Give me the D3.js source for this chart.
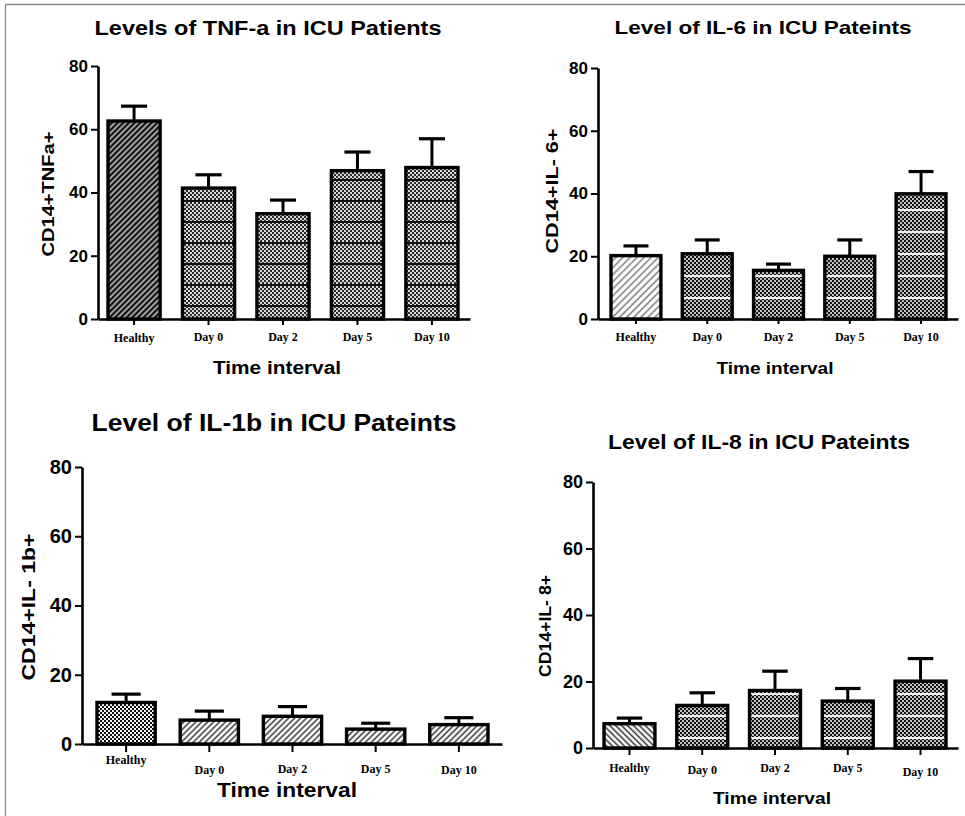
<!DOCTYPE html>
<html>
<head>
<meta charset="utf-8">
<script src="https://cdn.jsdelivr.net/npm/d3@7/dist/d3.min.js"></script>
<style>
  html, body { margin: 0; padding: 0; background: #fff; }
  svg { display: block; }
</style>
</head>
<body>
<svg id="chart" width="965" height="816"></svg>
<script>
// ---------------- DATA ----------------
const categories = ["Healthy", "Day 0", "Day 2", "Day 5", "Day 10"];
const yTicks = [0, 20, 40, 60, 80];

const tnfValues = [62.6, 41.4, 33.3, 46.9, 47.9];
const tnfErrTop = [67.3, 45.6, 37.6, 52.8, 57.0];

const il6Values = [20.2, 20.8, 15.5, 20.0, 39.9];
const il6ErrTop = [23.3, 25.2, 17.5, 25.2, 47.0];

const il1bValues = [12.0, 6.9, 8.0, 4.3, 5.6];
const il1bErrTop = [14.4, 9.5, 10.8, 6.0, 7.6];

const il8Values = [7.3, 12.8, 17.3, 14.1, 20.1];
const il8ErrTop = [9.0, 16.6, 23.1, 17.9, 26.9];

const titles = [
  "Levels of TNF-a in ICU Patients",
  "Level of IL-6 in ICU Pateints",
  "Level of IL-1b in ICU Pateints",
  "Level of IL-8 in ICU Pateints"
];
const yTitles = ["CD14+TNFa+", "CD14+IL- 6+", "CD14+IL- 1b+", "CD14+IL- 8+"];
const xTitle = "Time interval";

// ---------------- LAYOUT ----------------
const panels = [
  { values: tnfValues, err: tnfErrTop, title: titles[0], yTitle: yTitles[0],
    axisX: 98, y0: 319, y80: 66, axisEnd: 470, bars: [108, 458],
    titleX: 268, titleY: 35, titleSize: 20, titleLen: 347,
    tickSize: 17, yTitleX: 48, yTitleY: 194, yTitleSize: 17, yTitleLen: 125,
    xTitleX: 277, xTitleY: 374, xTitleSize: 18, xTitleLen: 128,
    xTickLen: 6, labelDy: [23, 22, 22, 22, 22],
    fills: [["hatchDark"], ["checker", "stripesDark"], ["checker", "stripesDark"], ["checker", "stripesDark"], ["checker", "stripesDark"]] },
  { values: il6Values, err: il6ErrTop, title: titles[1], yTitle: yTitles[1],
    axisX: 598, y0: 319, y80: 68, axisEnd: 958, bars: [611, 946],
    titleX: 763, titleY: 34, titleSize: 19, titleLen: 297,
    tickSize: 17, yTitleX: 552, yTitleY: 191, yTitleSize: 17, yTitleLen: 125,
    xTitleX: 775, xTitleY: 374, xTitleSize: 17, xTitleLen: 117,
    xTickLen: 5, labelDy: [22, 22, 22, 22, 22],
    fills: [["hatchLight"], ["checkerDark", "stripesWhite"], ["checkerDark", "stripesWhite"], ["checkerDark", "stripesWhite"], ["checkerDark", "stripesWhite"]] },
  { values: il1bValues, err: il1bErrTop, title: titles[2], yTitle: yTitles[2],
    axisX: 82, y0: 744, y80: 467, axisEnd: 502, bars: [97, 488],
    titleX: 274, titleY: 431, titleSize: 24, titleLen: 365,
    tickSize: 20, yTitleX: 28, yTitleY: 607, yTitleSize: 19, yTitleLen: 147,
    xTitleX: 287, xTitleY: 797, xTitleSize: 20, xTitleLen: 140,
    xTickLen: 8, labelDy: [20, 30, 29, 29, 30],
    fills: [["checkerDots"], ["hatchMed"], ["hatchMed"], ["hatchMed"], ["hatchMed"]] },
  { values: il8Values, err: il8ErrTop, title: titles[3], yTitle: yTitles[3],
    axisX: 593, y0: 748, y80: 482, axisEnd: 958, bars: [604, 946],
    titleX: 759, titleY: 449, titleSize: 20, titleLen: 302,
    tickSize: 18, yTitleX: 545, yTitleY: 626, yTitleSize: 16, yTitleLen: 102,
    xTitleX: 772, xTitleY: 804, xTitleSize: 17, xTitleLen: 118,
    xTickLen: 7, labelDy: [24, 26, 24, 24, 28],
    fills: [["hatchBack"], ["checkerDark", "stripesWhite"], ["checkerDark", "stripesWhite"], ["checkerDark", "stripesWhite"], ["checkerDark", "stripesWhite"]] }
];

const svg = d3.select("#chart");
const defs = svg.append("defs");

// ---------------- PATTERNS ----------------
function checkerPattern(id, bg, fg, size) {
  const p = defs.append("pattern").attr("id", id).attr("patternUnits", "userSpaceOnUse")
    .attr("width", size * 2).attr("height", size * 2);
  p.append("rect").attr("width", size * 2).attr("height", size * 2).attr("fill", bg);
  p.append("rect").attr("x", 0).attr("y", 0).attr("width", size).attr("height", size).attr("fill", fg);
  p.append("rect").attr("x", size).attr("y", size).attr("width", size).attr("height", size).attr("fill", fg);
}
checkerPattern("checker", "#d8d8d8", "#2a2a2a", 2);
checkerPattern("checkerDark", "#c0c0c0", "#141414", 2);
checkerPattern("checkerDots", "#f4f4f4", "#111", 2);

function hatchPattern(id, bg, fg, spacing, width, angle) {
  const p = defs.append("pattern").attr("id", id).attr("patternUnits", "userSpaceOnUse")
    .attr("width", spacing).attr("height", spacing)
    .attr("patternTransform", `rotate(${angle})`);
  p.append("rect").attr("width", spacing).attr("height", spacing).attr("fill", bg);
  p.append("line").attr("x1", spacing / 2).attr("x2", spacing / 2).attr("y1", 0).attr("y2", spacing)
    .attr("stroke", fg).attr("stroke-width", width);
}
hatchPattern("hatchDark", "#a0a0a0", "#111", 4, 2.0, 45);
hatchPattern("hatchLight", "#fff", "#777", 5, 1.5, 45);
hatchPattern("hatchMed", "#fff", "#333", 4.2, 1.5, 45);
hatchPattern("hatchBack", "#fff", "#333", 4.2, 1.5, -45);

function stripePattern(id, color, period, width) {
  const p = defs.append("pattern").attr("id", id).attr("patternUnits", "userSpaceOnUse")
    .attr("width", 965).attr("height", period);
  p.append("rect").attr("x", 0).attr("y", Math.round(period / 2)).attr("width", 965).attr("height", width).attr("fill", color);
}
stripePattern("stripesDark", "#111", 21, 2);
stripePattern("stripesWhite", "#eeeeee", 22, 2);

// ---------------- FRAME ----------------
svg.append("line").attr("x1", 5).attr("x2", 965).attr("y1", 4.5).attr("y2", 4.5)
  .attr("stroke", "#8a8a8a").attr("stroke-width", 1.3);
svg.append("line").attr("x1", 5.5).attr("x2", 5.5).attr("y1", 4).attr("y2", 816)
  .attr("stroke", "#8a8a8a").attr("stroke-width", 1.3);

// ---------------- PANELS ----------------
panels.forEach(cfg => {
  const g = svg.append("g");
  const y = d3.scaleLinear().domain([0, 80]).range([cfg.y0, cfg.y80]);
  const x = d3.scaleBand().domain(categories).range(cfg.bars).paddingInner(0.3).paddingOuter(0);
  const bw = x.bandwidth();

  // title
  g.append("text").attr("x", cfg.titleX).attr("y", cfg.titleY)
    .attr("text-anchor", "middle")
    .attr("font-family", "Liberation Sans, Arial, sans-serif").attr("font-weight", "bold")
    .attr("font-size", cfg.titleSize)
    .attr("textLength", cfg.titleLen).attr("lengthAdjust", "spacingAndGlyphs")
    .text(cfg.title);

  // bars
  const barG = g.append("g");
  categories.forEach((c, i) => {
    const v = cfg.values[i];
    const bx = x(c), by = y(v), bh = y(0) - y(v);
    cfg.fills[i].forEach(f => {
      barG.append("rect").attr("x", bx).attr("y", by).attr("width", bw).attr("height", bh)
        .attr("fill", `url(#${f})`);
    });
    // error bar
    const cx = x(c) + bw / 2;
    const cap = bw * 0.5;
    barG.append("line").attr("x1", cx).attr("x2", cx).attr("y1", y(v)).attr("y2", y(cfg.err[i]))
      .attr("stroke", "#000").attr("stroke-width", 3);
    barG.append("line").attr("x1", cx - cap / 2).attr("x2", cx + cap / 2)
      .attr("y1", y(cfg.err[i])).attr("y2", y(cfg.err[i]))
      .attr("stroke", "#000").attr("stroke-width", 3.2);
    barG.append("rect").attr("x", bx).attr("y", by).attr("width", bw).attr("height", bh)
      .attr("fill", "none").attr("stroke", "#000").attr("stroke-width", 3.4);
  });

  // y axis
  const yAxis = d3.axisLeft(y).tickValues(yTicks).tickSize(7).tickPadding(3).tickSizeOuter(0);
  const ya = g.append("g").attr("transform", `translate(${cfg.axisX},0)`).call(yAxis);
  ya.select(".domain").attr("stroke", "#000").attr("stroke-width", 2.6);
  ya.selectAll(".tick line").attr("stroke", "#000").attr("stroke-width", 2);
  ya.selectAll(".tick text").attr("fill", "#000")
    .attr("font-family", "Liberation Sans, Arial, sans-serif").attr("font-weight", "bold")
    .attr("font-size", cfg.tickSize);

  // x axis line
  const xAxisScale = d3.scaleLinear().domain([0, 1]).range([cfg.axisX, cfg.axisEnd]);
  const xa = g.append("g").attr("transform", `translate(0,${cfg.y0})`)
    .call(d3.axisBottom(xAxisScale).tickValues([]).tickSizeOuter(0));
  xa.select(".domain").attr("stroke", "#000").attr("stroke-width", 2.6);

  // x ticks and category labels
  categories.forEach((c, i) => {
    const cx = x(c) + bw / 2;
    g.append("line").attr("x1", cx).attr("x2", cx).attr("y1", cfg.y0).attr("y2", cfg.y0 + cfg.xTickLen)
      .attr("stroke", "#000").attr("stroke-width", 2);
    g.append("text").attr("x", cx).attr("y", cfg.y0 + cfg.labelDy[i])
      .attr("text-anchor", "middle")
      .attr("font-family", "Liberation Serif, Times New Roman, serif").attr("font-weight", "bold")
      .attr("font-size", 12)
      .text(c);
  });

  // x title
  g.append("text").attr("x", cfg.xTitleX).attr("y", cfg.xTitleY)
    .attr("text-anchor", "middle")
    .attr("font-family", "Liberation Sans, Arial, sans-serif").attr("font-weight", "bold")
    .attr("font-size", cfg.xTitleSize)
    .attr("textLength", cfg.xTitleLen).attr("lengthAdjust", "spacingAndGlyphs")
    .text(xTitle);

  // y title
  g.append("text")
    .attr("transform", `translate(${cfg.yTitleX},${cfg.yTitleY}) rotate(-90)`)
    .attr("text-anchor", "middle").attr("dy", "0.35em")
    .attr("font-family", "Liberation Sans, Arial, sans-serif").attr("font-weight", "bold")
    .attr("font-size", cfg.yTitleSize)
    .attr("textLength", cfg.yTitleLen).attr("lengthAdjust", "spacingAndGlyphs")
    .text(cfg.yTitle);
});
</script>
</body>
</html>
